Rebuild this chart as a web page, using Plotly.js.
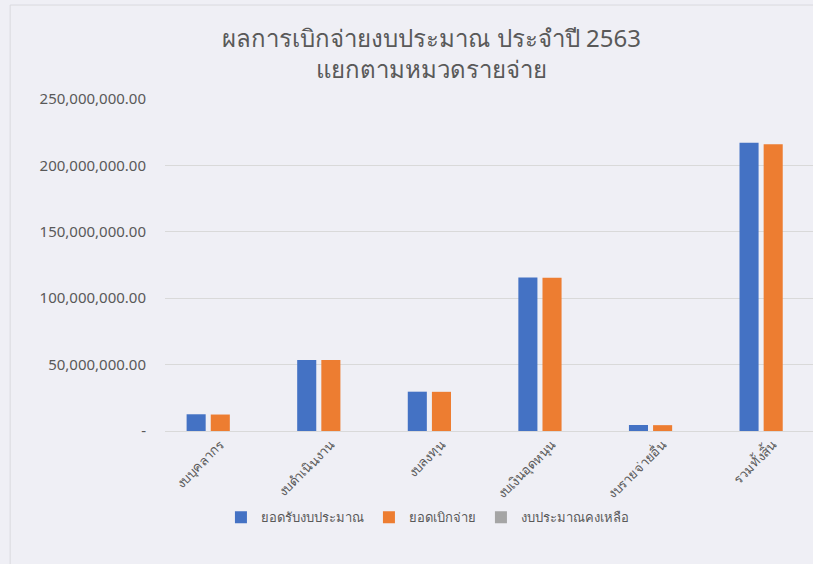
<!DOCTYPE html>
<html>
<head>
<meta charset="utf-8">
<script src="https://cdn.plot.ly/plotly-3.0.1.min.js"></script>
<style>html,body{margin:0;padding:0;background:#efeff5;}#chart{width:813px;height:564px;}</style>
</head>
<body>
<div id="chart"></div>
<script>
var categories = ["งบบุคลากร", "งบดำเนินงาน", "งบลงทุน", "งบเงินอุดหนุน", "งบรายจ่ายอื่น", "รวมทั้งสิ้น"];
var seriesNames = ["ยอดรับงบประมาณ", "ยอดเบิกจ่าย", "งบประมาณคงเหลือ"];
var received = [12600000, 53500000, 29600000, 115500000, 4500000, 217000000];
var disbursed = [12400000, 53400000, 29500000, 115400000, 4400000, 216000000];
var remaining = [0, 0, 0, 0, 0, 0];
var yTickVals = [0, 50000000, 100000000, 150000000, 200000000, 250000000];
var yTickText = ["-", "50,000,000.00", "100,000,000.00", "150,000,000.00", "200,000,000.00", "250,000,000.00"];

var font = "'Noto Sans', 'DejaVu Sans', sans-serif";
var traces = [
  {type: "bar", name: seriesNames[0], x: categories, y: received, marker: {color: "#4472C4"}},
  {type: "bar", name: seriesNames[1], x: categories, y: disbursed, marker: {color: "#ED7D31"}},
  {type: "bar", name: seriesNames[2], x: categories, y: remaining, marker: {color: "#A5A5A5"}}
];
var layout = {
  width: 813, height: 564,
  paper_bgcolor: "#efeff5", plot_bgcolor: "#efeff5",
  margin: {l: 165, r: 0, t: 99, b: 133},
  barmode: "group", bargap: 0.345, bargroupgap: 0.21,
  showlegend: true,
  title: {text: "ผลการเบิกจ่ายงบประมาณ ประจำปี 2563<br>แยกตามหมวดรายจ่าย", x: 0.531, xanchor: "center", y: 0.917, yanchor: "middle",
          font: {family: font, size: 24, color: "#595959"}},
  xaxis: {range: [-0.5, 5.36], tickangle: -45, tickfont: {family: font, size: 13, color: "#595959"},
          showgrid: false, zeroline: false, showline: true, linecolor: "#d9d9d9", ticks: ""},
  yaxis: {range: [0, 250000000], tickvals: yTickVals, ticktext: yTickText, tickfont: {family: font, size: 15, color: "#595959"},
          showgrid: true, gridcolor: "#d9d9d9", zeroline: false, ticks: "", ticklabelstandoff: 18},
  legend: {orientation: "h", x: 0.405, xanchor: "center", y: -0.26, yanchor: "middle",
           font: {family: font, size: 13, color: "#595959"}, bgcolor: "rgba(0,0,0,0)", traceorder: "normal", itemwidth: 30},
  shapes: [{type: "rect", xref: "paper", yref: "paper", x0: -0.239, x1: 1.2, y0: -0.5, y1: 1.283,
            line: {color: "#d9d9de", width: 1}, fillcolor: "rgba(0,0,0,0)"}]
};
Plotly.newPlot("chart", traces, layout, {displayModeBar: false});
</script>
</body>
</html>
